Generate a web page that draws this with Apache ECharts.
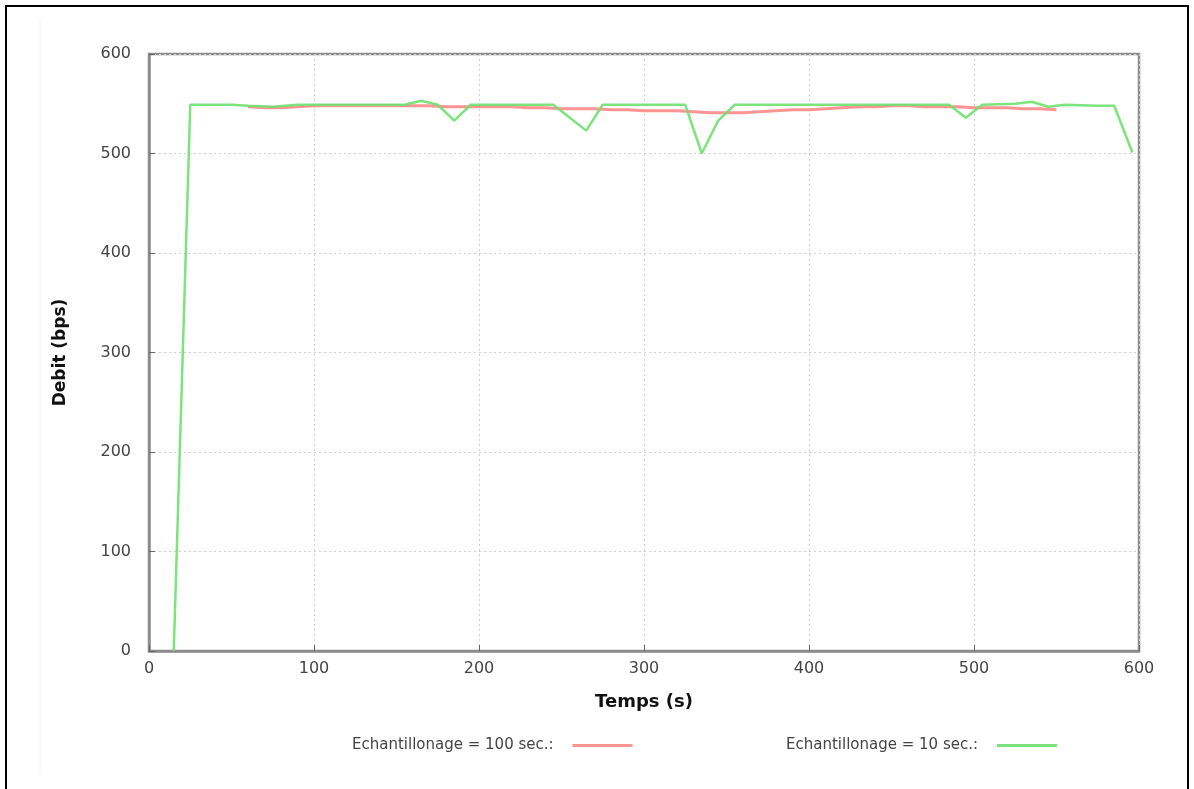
<!DOCTYPE html>
<html>
<head>
<meta charset="utf-8">
<script src="https://cdn.jsdelivr.net/npm/echarts@6/dist/echarts.min.js"></script>
<style>
html,body{margin:0;padding:0;background:#fff;}
#chart{width:1194px;height:789px;}
</style>
</head>
<body>
<div id="chart"></div>
<script>
// Data
const seriesNames = ['Echantillonage = 100 sec.:', 'Echantillonage = 10 sec.:'];
const xTicks = [0, 100, 200, 300, 400, 500, 600];
const yTicks = [0, 100, 200, 300, 400, 500, 600];

// Echantillonage = 100 sec. (time s, debit bps)
const red100 = [
  [60,547],[70,546],[80,546],[90,547],[100,548],[110,548],[120,548],[130,548],[140,548],[150,548],
  [160,548],[170,548],[180,547],[190,547],[200,547],[210,547],[220,547],[230,546],[240,546],[250,545],
  [260,545],[270,545],[280,544],[290,544],[300,543],[310,543],[320,543],[330,542],[340,541],[350,541],
  [360,541],[370,542],[380,543],[390,544],[400,544],[410,545],[420,546],[430,547],[440,547],[450,548],
  [460,548],[470,547],[480,547],[490,547],[500,546],[510,546],[520,546],[530,545],[540,545],[550,544]
];

// Echantillonage = 10 sec. (time s, debit bps)
const green10 = [
  [15,0],[25,549],[50,549],[60,548],[75,547],[90,549],[155,549],[165,553],[175,549],[185,533],
  [195,549],[245,549],[265,523],[275,549],[325,549],[335,500],[345,533],[355,549],[420,549],[485,549],
  [495,536],[505,549],[525,550],[535,552],[545,547],[555,549],[575,548],[585,548],[596,501]
];

const chart = echarts.init(document.getElementById('chart'));
const font = 'DejaVu Sans';
const option = {
  animation: false,
  backgroundColor: '#fff',
  graphic: [
    {type:'rect', shape:{x:6,y:6,width:1182,height:800}, style:{fill:'none', stroke:'#000', lineWidth:2}, silent:true, z:-1},
    {type:'line', shape:{x1:40,y1:18,x2:40,y2:775}, style:{stroke:'#f0f0f0', lineWidth:1}, silent:true, z:-1}
  ],
  grid: {left:149, right:55, top:54, bottom:138, show:true, borderColor:'#8c8c8c', borderWidth:2.5, backgroundColor:'#fff'},
  xAxis: {
    type:'value', min:xTicks[0], max:xTicks[xTicks.length-1], interval:100,
    name:'Temps (s)', nameLocation:'middle', nameGap:42,
    nameTextStyle:{fontFamily:font, fontSize:18, fontWeight:'bold', color:'#111'},
    axisLine:{show:true, lineStyle:{color:'#8c8c8c', width:2.5}},
    axisTick:{show:true, inside:true, length:6, lineStyle:{color:'#666'}},
    axisLabel:{fontFamily:font, fontSize:16, color:'#444', margin:10},
    splitLine:{show:true, lineStyle:{color:'#cfcfcf', type:[2,3], width:1}}
  },
  yAxis: {
    type:'value', min:yTicks[0], max:yTicks[yTicks.length-1], interval:100,
    name:'Debit (bps)', nameLocation:'middle', nameGap:80, nameRotate:90,
    nameTextStyle:{fontFamily:font, fontSize:17, fontWeight:'bold', color:'#111'},
    axisLine:{show:true, lineStyle:{color:'#8c8c8c', width:2.5}},
    axisTick:{show:true, inside:true, length:6, lineStyle:{color:'#666'}},
    axisLabel:{fontFamily:font, fontSize:16, color:'#444', margin:18},
    splitLine:{show:true, lineStyle:{color:'#cfcfcf', type:[2,3], width:1}}
  },
  legend: [
    {data:[seriesNames[0]], left:347, top:733, align:'right', icon:'rect', itemWidth:60, itemHeight:3,
     textStyle:{fontFamily:font, fontSize:15, color:'#444', padding:[0,14,0,0]}},
    {data:[seriesNames[1]], left:781, top:733, align:'right', icon:'rect', itemWidth:60, itemHeight:3,
     textStyle:{fontFamily:font, fontSize:15, color:'#444', padding:[0,14,0,0]}}
  ],
  series: [
    {name:seriesNames[0], type:'line', data:red100, showSymbol:false, symbol:'none',
     lineStyle:{color:'#ff9494', width:3}, itemStyle:{color:'#ff9494'}, z:2},
    {name:seriesNames[1], type:'line', data:green10, showSymbol:false, symbol:'none',
     lineStyle:{color:'#6fe06f', width:2.5, opacity:0.9}, itemStyle:{color:'#7be37b'}, z:3}
  ]
};
chart.setOption(option);
</script>
</body>
</html>
